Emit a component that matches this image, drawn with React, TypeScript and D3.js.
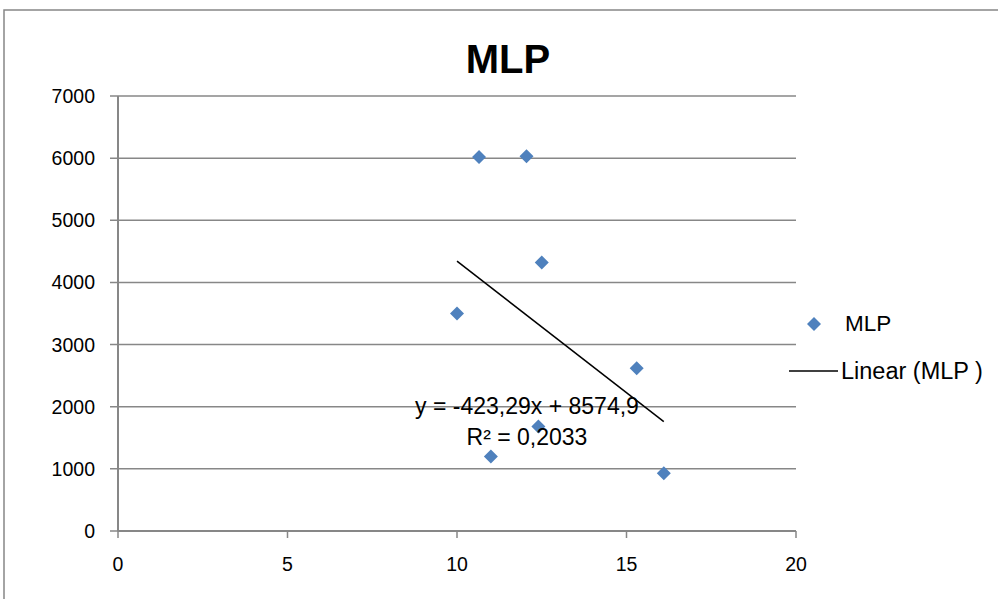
import React from "react";
import * as d3 from "d3";

const xValues = [10, 10.65, 12.05, 12.5, 11, 12.4, 15.3, 16.1];
const yValues = [3500, 6020, 6030, 4320, 1200, 1680, 2620, 930];
const xTicks = [0, 5, 10, 15, 20];
const yTicks = [0, 1000, 2000, 3000, 4000, 5000, 6000, 7000];
const slope = -423.29;
const intercept = 8574.9;
const title = "MLP";
const seriesName = "MLP";
const trendName = "Linear (MLP )";
const eqLines = ["y = -423,29x + 8574,9", "R² = 0,2033"];

export default function App() {
  const W = 998, H = 599;
  const x = d3.scaleLinear().domain([0, 20]).range([118, 796]);
  const y = d3.scaleLinear().domain([0, 7000]).range([531, 96]);
  const font = "'Liberation Sans', Arial, sans-serif";
  const grid = "#878787";
  const blue = "#4F81BD";
  const diamond = (cx: number, cy: number, r: number) =>
    `M${cx},${cy - r}L${cx + r},${cy}L${cx},${cy + r}L${cx - r},${cy}Z`;
  const xMin = d3.min(xValues)!;
  const xMax = d3.max(xValues)!;
  const line = d3.line<number>().x((d) => x(d)).y((d) => y(slope * d + intercept));
  return (
    <svg width={W} height={H} style={{ position: "absolute", left: 0, top: 0 }}>
      <rect x={0} y={0} width={W} height={H} fill="#fff" />
      <rect x={4} y={10} width={W + 10} height={H + 10} fill="none" stroke="#878787" strokeWidth={1.5} />
      <text x={508} y={73} textAnchor="middle" fontFamily={font} fontWeight="bold" fontSize={40}>{title}</text>
      {yTicks.map((t) => (
        <g key={"y" + t}>
          <line x1={110} x2={796} y1={y(t)} y2={y(t)} stroke={grid} strokeWidth={1.5} />
          <text x={95} y={y(t) + 7} textAnchor="end" fontFamily={font} fontSize={19.5}>{t}</text>
        </g>
      ))}
      <line x1={x(0)} x2={x(0)} y1={y(0)} y2={y(7000)} stroke={grid} strokeWidth={2} />
      {xTicks.map((t) => (
        <g key={"x" + t}>
          <line x1={x(t)} x2={x(t)} y1={y(0)} y2={y(0) + 7} stroke={grid} strokeWidth={1.5} />
          <text x={x(t)} y={571} textAnchor="middle" fontFamily={font} fontSize={19.5}>{t}</text>
        </g>
      ))}
      <line x1={x(0)} x2={x(20)} y1={y(0)} y2={y(0)} stroke={grid} strokeWidth={2} />
      <path d={line([xMin, xMax]) || ""} stroke="#000" strokeWidth={1.5} fill="none" />
      {xValues.map((v, i) => (
        <path key={"p" + i} d={diamond(x(v), y(yValues[i]), 7)} fill={blue} />
      ))}
      <text x={527} y={414} textAnchor="middle" fontFamily={font} fontSize={23}>{eqLines[0]}</text>
      <text x={527} y={445} textAnchor="middle" fontFamily={font} fontSize={23}>{eqLines[1]}</text>
      <path d={diamond(814, 324, 7)} fill={blue} />
      <text x={845} y={331} fontFamily={font} fontSize={22.5}>{seriesName}</text>
      <line x1={789} x2={838} y1={371} y2={371} stroke="#000" strokeWidth={1.5} />
      <text x={841} y={379} fontFamily={font} fontSize={23.5}>{trendName}</text>
    </svg>
  );
}
